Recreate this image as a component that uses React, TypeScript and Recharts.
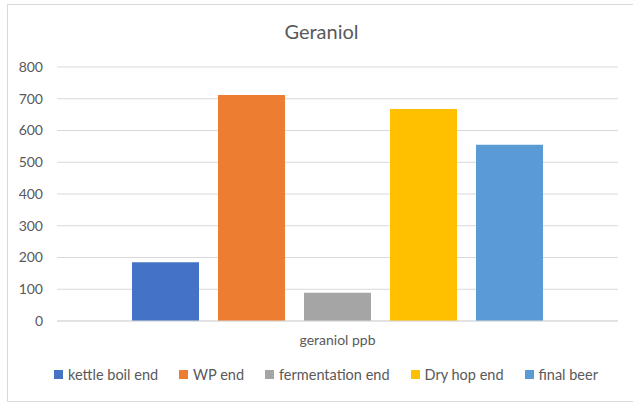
import React from 'react';
import { BarChart, Bar, XAxis, YAxis, CartesianGrid } from 'recharts';

// ---------- data ----------
const categories = ['geraniol ppb'];
const seriesNames = ['kettle boil end', 'WP end', 'fermentation end', 'Dry hop end', 'final beer'];
const seriesValues = [185, 712, 89, 668, 555];
const seriesColors = ['#4472C4', '#ED7D31', '#A5A5A5', '#FFC000', '#5B9BD5'];
const yTicks = [0, 100, 200, 300, 400, 500, 600, 700, 800];

const chartData = categories.map((cat) => {
  const row: Record<string, string | number> = { name: cat };
  seriesNames.forEach((s, i) => {
    row[s] = seriesValues[i];
  });
  return row;
});

const FONT = 'Lato, "Open Sans", sans-serif';
const TEXT = '#595959';
const GRID = '#D9D9D9';

export default function App() {
  return (
    <div
      style={{
        position: 'absolute',
        left: 0,
        top: 0,
        width: 633,
        height: 403,
        overflow: 'hidden',
        background: '#fff',
        fontFamily: FONT,
      }}
    >
      {/* chart frame */}
      <div
        style={{
          position: 'absolute',
          left: 7,
          top: 4,
          width: 650,
          height: 396,
          border: `1px solid ${GRID}`,
        }}
      />

      {/* title */}
      <div
        style={{
          position: 'absolute',
          left: 0,
          top: 19,
          width: 643,
          textAlign: 'center',
          fontSize: 20,
          color: TEXT,
        }}
      >
        Geraniol
      </div>

      <div style={{ position: 'absolute', left: 0, top: 0 }}>
        <BarChart
          width={633}
          height={403}
          data={chartData}
          margin={{ top: 67, right: 15, left: 0, bottom: 52 }}
          barGap={19}
          barCategoryGap={75}
        >
          <CartesianGrid vertical={false} stroke={GRID} />
          <XAxis
            dataKey="name"
            height={30}
            axisLine={{ stroke: GRID }}
            tickLine={false}
            tick={{ fontFamily: FONT, fontSize: 14, fill: TEXT }}
            dy={6}
          />
          <YAxis
            width={57}
            domain={[0, 800]}
            ticks={yTicks}
            interval={0}
            axisLine={false}
            tickLine={false}
            tick={{ fontFamily: FONT, fontSize: 14, fill: TEXT }}
            dx={-6}
          />
          {seriesNames.map((s, i) => (
            <Bar key={s} dataKey={s} fill={seriesColors[i]} isAnimationActive={false} />
          ))}
        </BarChart>
      </div>

      {/* legend */}
      <div
        style={{
          position: 'absolute',
          left: 0,
          top: 366,
          width: 652,
          display: 'flex',
          justifyContent: 'center',
          gap: 21,
          fontSize: 14.5,
          color: TEXT,
        }}
      >
        {seriesNames.map((s, i) => (
          <div key={s} style={{ display: 'flex', alignItems: 'center', gap: 5 }}>
            <div style={{ width: 9, height: 9, background: seriesColors[i] }} />
            <span>{s}</span>
          </div>
        ))}
      </div>
    </div>
  );
}
